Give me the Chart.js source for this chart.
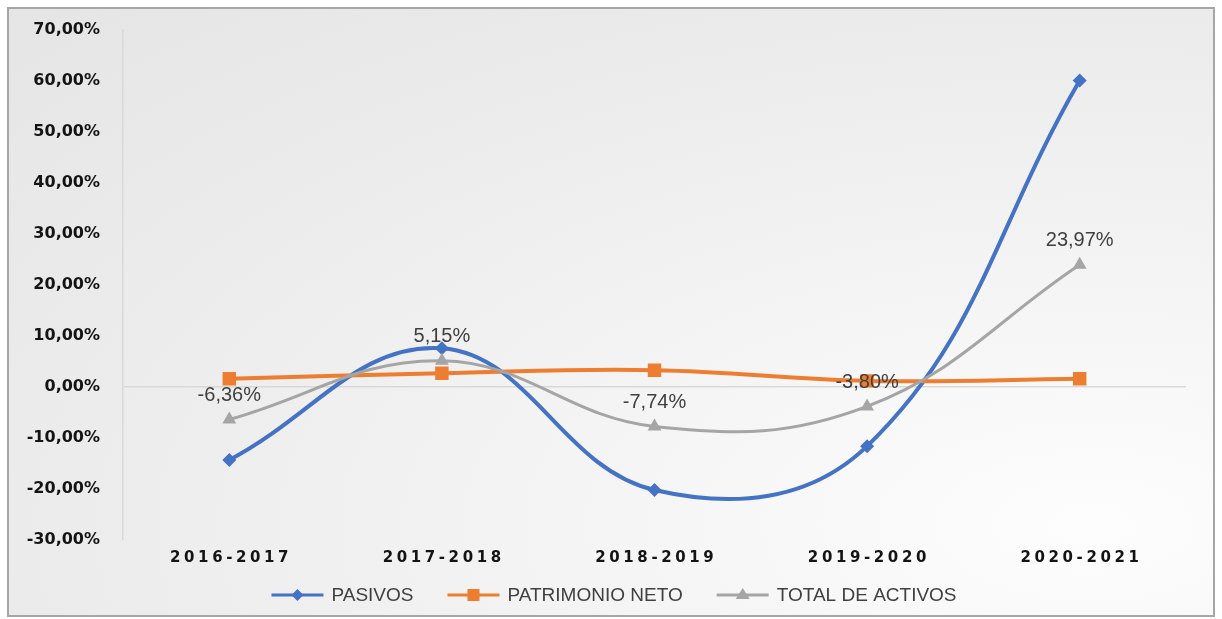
<!DOCTYPE html>
<html>
<head>
<meta charset="utf-8">
<script src="https://cdn.jsdelivr.net/npm/chart.js@4/dist/chart.umd.min.js"></script>
<style>
  html, body { margin: 0; padding: 0; }
  body { width: 1222px; height: 619px; position: relative; overflow: hidden; background: #ffffff; }
  #frame {
    position: absolute; left: 7px; top: 7px; width: 1204px; height: 606px;
    border: 2px solid #a6a6a6;
    background: radial-gradient(ellipse at 90% 85%, #fdfdfd 0%, #f5f5f5 30%, #ebebeb 70%, #e5e5e5 100%);
  }
  #wrap { position: absolute; left: 0; top: 0; width: 1222px; height: 619px; }
</style>
</head>
<body>
<div id="frame"></div>
<div id="wrap"><canvas id="c" width="1222" height="619"></canvas></div>
<script>
const categories = ['2016-2017', '2017-2018', '2018-2019', '2019-2020', '2020-2021'];
const pasivos = [-14.3, 7.6, -20.2, -11.6, 60.1];
const patrimonioNeto = [1.6, 2.7, 3.3, 1.2, 1.6];
const totalActivos = [-6.36, 5.15, -7.74, -3.80, 23.97];
const seriesNames = ['PASIVOS', 'PATRIMONIO NETO', 'TOTAL DE ACTIVOS'];
const yTicks = { min: -30, max: 70, step: 10 };

const fmt = v => v.toFixed(2).replace('.', ',') + '%';

const xLabelPlugin = {
  id: 'xLabels',
  afterDraw(chart) {
    const ctx = chart.ctx;
    const xs = chart.scales.x;
    ctx.save();
    ctx.font = 'bold 15px "DejaVu Sans"';
    ctx.fillStyle = '#141414';
    ctx.textAlign = 'center';
    ctx.textBaseline = 'middle';
    const sp = 3.6;
    if ('letterSpacing' in ctx) ctx.letterSpacing = sp + 'px';
    categories.forEach((c, i) => {
      const x = xs.getPixelForValue(i);
      ctx.fillText(c, x + sp / 2, 558);
    });
    ctx.restore();
  }
};

const dataLabelPlugin = {
  id: 'dataLabels',
  afterDatasetsDraw(chart) {
    const ctx = chart.ctx;
    const meta = chart.getDatasetMeta(2);
    ctx.save();
    ctx.font = '20px "Liberation Sans"';
    ctx.fillStyle = '#404040';
    ctx.textAlign = 'center';
    ctx.textBaseline = 'middle';
    meta.data.forEach((pt, i) => {
      ctx.fillText(fmt(totalActivos[i]), pt.x, pt.y - 24);
    });
    ctx.restore();
  }
};

const legendPlugin = {
  id: 'customLegend',
  afterDraw(chart) {
    const ctx = chart.ctx;
    ctx.save();
    ctx.font = '19px "Liberation Sans"';
    const lineW = 52, gapLT = 8, gapItems = 34;
    const ds = chart.data.datasets;
    const widths = ds.map(d => lineW + gapLT + ctx.measureText(d.label).width);
    const total = widths.reduce((a, b) => a + b, 0) + gapItems * (ds.length - 1);
    let x = 614 - total / 2;
    const y = 595;
    ds.forEach((d, i) => {
      const cx = x + lineW / 2;
      ctx.strokeStyle = d.borderColor;
      ctx.lineWidth = 3;
      ctx.beginPath();
      ctx.moveTo(x, y);
      ctx.lineTo(x + lineW, y);
      ctx.stroke();
      ctx.fillStyle = d.pointBackgroundColor;
      ctx.beginPath();
      if (d.pointStyle === 'rectRot') {
        const r = 6;
        ctx.moveTo(cx, y - r); ctx.lineTo(cx + r, y); ctx.lineTo(cx, y + r); ctx.lineTo(cx - r, y);
      } else if (d.pointStyle === 'rect') {
        ctx.rect(cx - 6, y - 6, 12, 12);
      } else {
        ctx.moveTo(cx, y - 7); ctx.lineTo(cx + 7, y + 4); ctx.lineTo(cx - 7, y + 4);
      }
      ctx.closePath();
      ctx.fill();
      ctx.fillStyle = '#404040';
      ctx.textAlign = 'left';
      ctx.textBaseline = 'middle';
      ctx.fillText(d.label, x + lineW + gapLT, y + 1);
      x += widths[i] + gapItems;
    });
    ctx.restore();
  }
};

new Chart(document.getElementById('c'), {
  type: 'line',
  data: {
    labels: categories,
    datasets: [
      {
        label: seriesNames[0], data: pasivos,
        borderColor: '#4472C4', backgroundColor: '#4472C4', pointBackgroundColor: '#4472C4',
        borderWidth: 4, pointStyle: 'rectRot', pointRadius: 7, pointBorderWidth: 0,
        tension: 0.4, order: 3
      },
      {
        label: seriesNames[1], data: patrimonioNeto,
        borderColor: '#ED7D31', backgroundColor: '#ED7D31', pointBackgroundColor: '#ED7D31',
        borderWidth: 4, pointStyle: 'rect', pointRadius: 9.5, pointBorderWidth: 0,
        tension: 0.4, order: 2
      },
      {
        label: seriesNames[2], data: totalActivos,
        borderColor: '#A5A5A5', backgroundColor: '#A5A5A5', pointBackgroundColor: '#A5A5A5',
        borderWidth: 3, pointStyle: 'triangle', pointRadius: 8, pointBorderWidth: 0,
        tension: 0.4, order: 1
      }
    ]
  },
  options: {
    responsive: false,
    animation: false,
    layout: { padding: { left: 0, top: 30, right: 36, bottom: 41 } },
    plugins: { legend: { display: false }, tooltip: { enabled: false } },
    scales: {
      x: {
        offset: true,
        grid: { display: false },
        border: { display: false },
        ticks: { display: false },
        afterFit(s) { s.height = 38; }
      },
      y: {
        min: yTicks.min, max: yTicks.max,
        ticks: {
          stepSize: yTicks.step, padding: 23,
          color: '#141414',
          font: { family: 'DejaVu Sans', size: 16, weight: 'bold' },
          callback: v => fmt(v)
        },
        grid: {
          drawTicks: false,
          color: ctx => (ctx.tick && ctx.tick.value === 0) ? '#d9d9d9' : 'rgba(0,0,0,0)',
          lineWidth: 1.5
        },
        border: { display: true, color: '#d9d9d9', width: 1.5 },
        afterFit(s) { s.width = 123; s.paddingTop = 0; s.paddingBottom = 0; }
      }
    }
  },
  plugins: [xLabelPlugin, dataLabelPlugin, legendPlugin]
});
</script>
</body>
</html>
